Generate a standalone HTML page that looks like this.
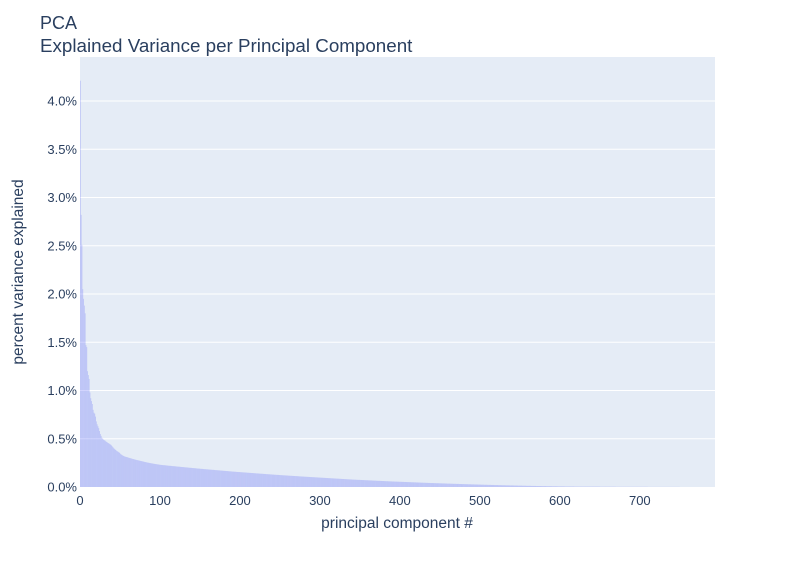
<!DOCTYPE html>
<html><head><meta charset="utf-8">
<style>
html,body{margin:0;padding:0;background:#fff;}
svg{display:block;font-family:"Liberation Sans",Arial,sans-serif;}
</style></head>
<body>
<svg id="chart" width="796" height="568" viewBox="0 0 796 568">
  <rect x="80" y="57" width="635" height="430" fill="#e5ecf6"/>
  <g id="grid"></g>
  <g id="bars"></g>
  <g id="yticks"></g>
  <g id="xticks"></g>
  <text x="40" y="29" font-size="18" fill="#2a3f5f">PCA</text>
  <text x="40" y="52" font-size="18.8" fill="#2a3f5f">Explained Variance per Principal Component</text>
  <text x="397" y="528" font-size="15.5" fill="#2a3f5f" text-anchor="middle">principal component #</text>
  <text x="0" y="0" font-size="15.5" fill="#2a3f5f" text-anchor="middle" transform="translate(23,272) rotate(-90)">percent variance explained</text>
</svg>
<script>
// explained variance per component, in thousandths of a percent
const varianceMilli = [
4210,2820,2510,2050,1950,1880,1800,1470,1450,1200,
1160,1120,980,920,890,860,800,770,760,730,
680,650,630,610,580,550,530,510,500,490,
485,480,472,466,460,455,450,444,438,430,
420,410,400,392,385,378,372,366,360,355,
345,338,332,326,322,318,315,312,310,308,
305,302,300,297,295,292,290,288,285,283,
281,279,277,275,273,271,269,267,265,263,
261,259,257,255,253,252,250,248,247,245,
244,242,241,239,238,237,235,234,233,231,
230,229,228,227,226,226,225,224,223,222,
221,220,220,219,218,217,216,216,215,214,
213,212,211,211,210,209,208,207,207,206,
205,204,203,203,202,201,200,199,199,198,
197,196,195,195,194,193,192,191,191,190,
189,188,188,187,186,185,185,184,183,183,
182,181,180,180,179,178,178,177,176,175,
175,174,173,173,172,171,170,170,169,168,
167,167,166,165,165,164,163,162,162,161,
160,160,159,158,158,157,156,156,155,155,
154,153,153,152,151,151,150,150,149,148,
148,147,146,146,145,145,144,143,143,142,
141,141,140,140,139,138,138,137,137,136,
135,135,134,133,133,132,132,131,130,130,
129,129,128,127,127,126,126,125,125,124,
123,123,122,122,121,121,120,120,119,119,
118,117,117,116,116,115,115,114,114,113,
113,112,112,111,110,110,109,109,108,108,
107,107,106,106,105,105,104,104,103,103,
102,102,101,101,100,100,99,99,98,98,
97,97,96,96,95,95,94,94,93,93,
92,92,91,91,90,90,89,89,88,88,
87,87,86,86,85,85,84,84,83,83,
82,82,81,81,80,80,79,79,78,78,
77,77,76,76,76,75,75,74,74,74,
73,73,72,72,72,71,71,70,70,70,
69,69,68,68,68,67,67,66,66,66,
65,65,64,64,64,63,63,62,62,62,
61,61,60,60,60,59,59,58,58,58,
57,57,57,56,56,56,55,55,55,54,
54,54,53,53,53,52,52,52,51,51,
51,50,50,50,49,49,49,48,48,48,
47,47,47,46,46,46,45,45,45,44,
44,44,43,43,43,42,42,42,41,41,
41,41,40,40,40,39,39,39,39,38,
38,38,37,37,37,37,36,36,36,35,
35,35,35,34,34,34,33,33,33,33,
32,32,32,32,31,31,31,30,30,30,
30,29,29,29,29,28,28,28,28,27,
27,27,27,26,26,26,26,25,25,25,
25,24,24,24,24,23,23,23,23,22,
22,22,22,22,21,21,21,21,20,20,
20,20,20,19,19,19,19,18,18,18,
18,18,17,17,17,17,17,16,16,16,
16,16,15,15,15,15,15,14,14,14,
14,14,14,13,13,13,13,13,12,12,
12,12,12,12,11,11,11,11,11,11,
10,10,10,10,10,10,9,9,9,9,
9,9,9,8,8,8,8,8,8,8,
7,7,7,7,7,7,7,6,6,6,
6,6,6,6,6,6,5,5,5,5,
5,5,5,5,5,5,5,5,4,4,
4,4,4,4,4,4,4,4,4,4,
4,4,4,4,4,4,4,4,4,4,
4,4,4,4,4,4,4,4,4,4,
3,3,3,3,3,3,3,3,3,3,
3,3,3,3,3,3,3,3,3,3,
2,2,2,2,2,2,2,2,2,2,
2,2,2,2,2,2,2,2,2,2,
2,2,2,2,2,2,2,2,2,2,
2,2,2,2,2,2,2,2,2,2,
1,1,1,1,1,1,1,1,1,1,
1,1,1,1,1,1,1,1,1,1,
1,1,1,1,1,1,1,1,1,1,
1,1,1,1,1,1,1,1,1,1,
0,0,0,0,0,0,0,0,0,0,
0,0,0,0,0,0,0,0,0,0,
0,0,0,0,0,0,0,0,0,0,
0,0,0,0,0,0,0,0,0,0
];
const yTickValues = [0,0.5,1,1.5,2,2.5,3,3.5,4];
const yTickLabels = ["0.0%","0.5%","1.0%","1.5%","2.0%","2.5%","3.0%","3.5%","4.0%"];
const xTickValues = [0,100,200,300,400,500,600,700];
const xTickLabels = ["0","100","200","300","400","500","600","700"];

const NS = "http://www.w3.org/2000/svg";
const PL = 80, PR = 715, PT = 57, PB = 487;
const X0 = 0, X1 = 794;
const Y0 = 0, Y1 = (PB - PT) / 96.5;
function xs(v){ return PL + (v - X0) / (X1 - X0) * (PR - PL); }
function ys(v){ return PB - (v - Y0) / (Y1 - Y0) * (PB - PT); }

const grid = document.getElementById('grid');
const yt = document.getElementById('yticks');
yTickValues.forEach((v,i)=>{
  const y = ys(v);
  if (v !== 0) {
    const l = document.createElementNS(NS,'line');
    l.setAttribute('x1',PL); l.setAttribute('x2',PR);
    l.setAttribute('y1',y); l.setAttribute('y2',y);
    l.setAttribute('stroke','#fff'); l.setAttribute('stroke-width','1');
    
    
    grid.appendChild(l);
  }
  const t = document.createElementNS(NS,'text');
  t.setAttribute('x',PL-3); t.setAttribute('y',y+4.5);
  t.setAttribute('text-anchor','end'); t.setAttribute('font-size','13');
  t.setAttribute('fill','#2a3f5f');
  t.textContent = yTickLabels[i];
  
  
  yt.appendChild(t);
});
const xt = document.getElementById('xticks');
xTickValues.forEach((v,i)=>{
  const x = xs(v);
  const t = document.createElementNS(NS,'text');
  t.setAttribute('x',x); t.setAttribute('y',PB+18);
  t.setAttribute('text-anchor','middle'); t.setAttribute('font-size','13');
  t.setAttribute('fill','#2a3f5f');
  t.textContent = xTickLabels[i];
  
  
  xt.appendChild(t);
});
const bars = document.getElementById('bars');
varianceMilli.forEach((m,i)=>{
  const v = m / 1000;
  if (v <= 0) return;
  const xa = xs(i), xb = xs(i+1);
  const r = document.createElementNS(NS,'rect');
  r.setAttribute('x',xa); r.setAttribute('width',xb-xa);
  r.setAttribute('y',ys(v)); r.setAttribute('height',ys(0)-ys(v));
  r.setAttribute('fill','#636efa'); r.setAttribute('fill-opacity','0.3');
  
  
  bars.appendChild(r);
});
</script>
</body></html>
